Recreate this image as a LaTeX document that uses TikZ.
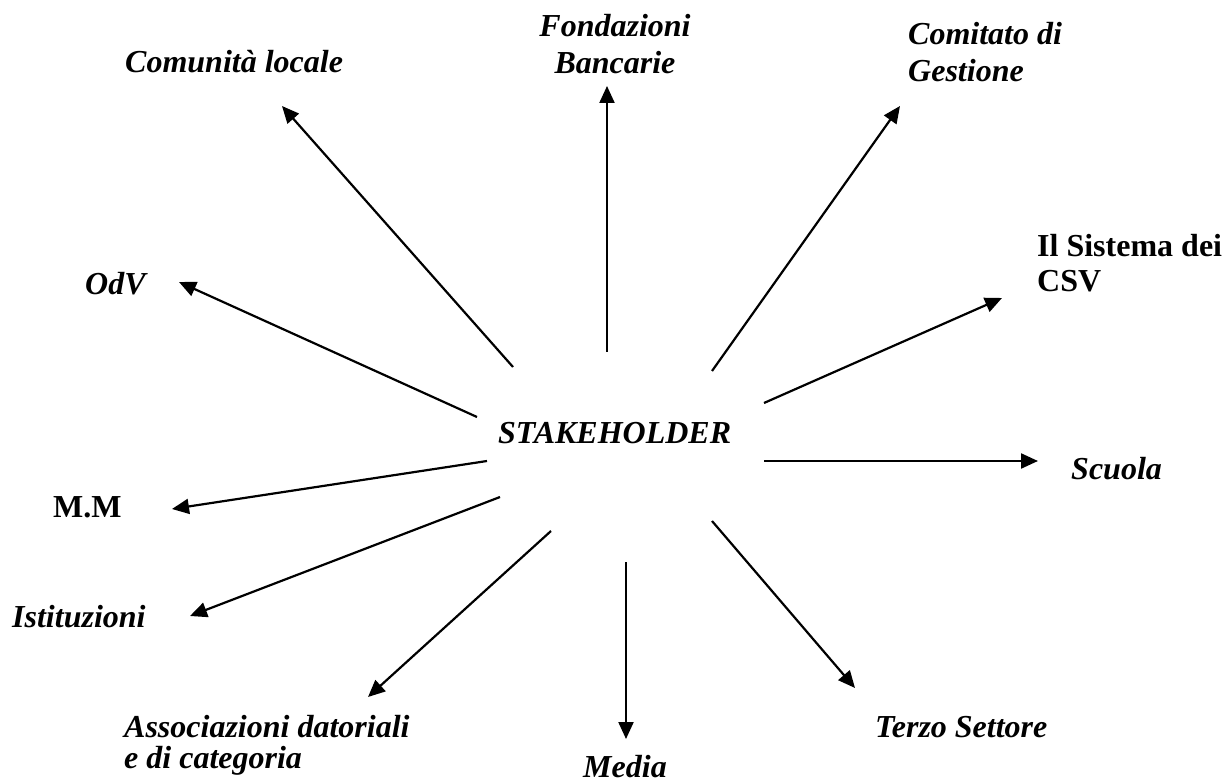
\documentclass[tikz,border=0pt]{standalone}
\usepackage{fontspec}
\setmainfont{Liberation Serif}
\usetikzlibrary{arrows.meta}
\begin{document}
\begin{tikzpicture}[x=1pt,y=-1pt,
  lbl/.style={font=\fontsize{32}{37}\selectfont\bfseries\itshape, inner sep=0pt},
  lblb/.style={font=\fontsize{32}{35}\selectfont\bfseries, inner sep=0pt},
  arr/.style={line width=2.2pt, -{Triangle[length=17pt,width=15pt]}}]
\useasboundingbox (0,0) rectangle (1224,783);
% labels
\node[lbl, anchor=base west] (com) at (125,73) {Comunità locale};
\node[lbl, anchor=north, align=center] (fon) at (615,14.5) {Fondazioni\\Bancarie};
\node[lbl, anchor=north west, align=left] (comi) at (908,22.5) {Comitato di\\Gestione};
\node[lblb, anchor=north west, align=left] (csv) at (1037,234) {Il Sistema dei\\CSV};
\node[lbl, anchor=base west] (odv) at (85,295) {OdV};
\node[lbl, anchor=base west] (stk) at (498,443) {STAKEHOLDER};
\node[lbl, anchor=base west] (scu) at (1071,479) {Scuola};
\node[lblb, anchor=base west] (mm) at (53,517) {M.M};
\node[lbl, anchor=base west] (ist) at (12,627) {Istituzioni};
\node[lbl, anchor=north west, align=left,
      font=\fontsize{32}{31}\selectfont\bfseries\itshape] (ass) at (124,715.5) {Associazioni datoriali\\e di categoria};
\node[lbl, anchor=base west] (med) at (583,777) {Media};
\node[lbl, anchor=base west] (ter) at (875,737) {Terzo Settore};
% arrow end points
\coordinate (s1) at (513,367);  \coordinate (e1) at (282,106);
\coordinate (s2) at (607,352);  \coordinate (e2) at (607,86);
\coordinate (s3) at (712,371);  \coordinate (e3) at (900,106);
\coordinate (s4) at (764,403);  \coordinate (e4) at (1002,298);
\coordinate (s5) at (764,461);  \coordinate (e5) at (1038,461);
\coordinate (s6) at (712,521);  \coordinate (e6) at (855,688);
\coordinate (s7) at (626,562);  \coordinate (e7) at (626,739);
\coordinate (s8) at (551,531);  \coordinate (e8) at (368,697);
\coordinate (s9) at (500,497);  \coordinate (e9) at (190,616);
\coordinate (s10) at (487,461); \coordinate (e10) at (172,509);
\coordinate (s11) at (477,417); \coordinate (e11) at (179,282);
\foreach \i in {1,...,11} \draw[arr] (s\i) -- (e\i);
\end{tikzpicture}
\end{document}
